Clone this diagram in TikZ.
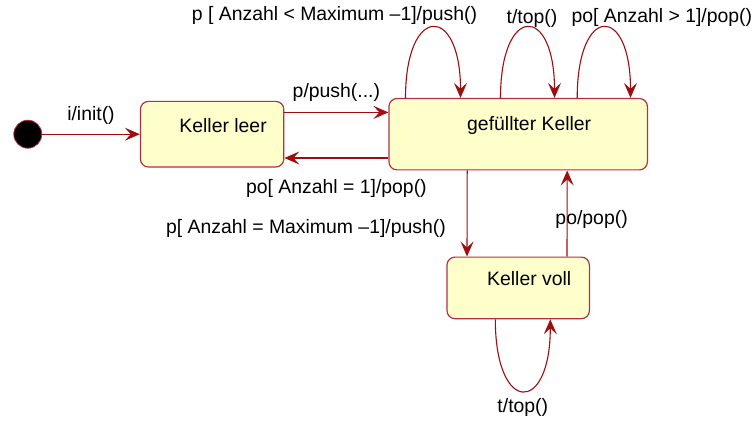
\documentclass[tikz,border=0pt]{standalone}
\usepackage{fontspec}
\setmainfont{Liberation Sans}
\usetikzlibrary{arrows.meta, positioning}
\definecolor{statefill}{RGB}{255,255,204}
\definecolor{stateborder}{RGB}{176,48,72}
\definecolor{arrowred}{RGB}{158,14,14}
\tikzstyle{initial} = [
  circle,
  minimum size=14pt,
  inner sep=0pt,
  draw=stateborder,
  fill=black
]
\tikzstyle{state} = [
  rectangle,
  rounded corners=4pt,
  inner sep=0pt,
  line width=0.6pt,
  draw=stateborder,
  fill=statefill
]
\tikzstyle{statename} = [xshift=5.5pt, yshift=4.5pt]
\tikzstyle{arrow} = [line width=0.55pt, draw=arrowred, -{Stealth[length=7.5pt, width=6.5pt, inset=3pt]}]

\begin{document}
\begin{tikzpicture}[font=\fontsize{9.7}{11.5}\selectfont]
    \useasboundingbox (0,0) rectangle (377pt,-211pt);
    \node (start) [initial] at (13.9pt,-67.1pt) {};
    \node (keller-leer) [state, minimum width=71.7pt, minimum height=32.8pt, right=48.8pt of start, label={[statename]center:Keller leer}] {};
    \node (gefuellter-keller) [state, minimum width=129.2pt, minimum height=35.7pt, right=52pt of keller-leer, label={[statename]center:gefüllter Keller}] {};
    \node (keller-voll) [state, minimum width=71.2pt, minimum height=30.8pt, below=43pt of gefuellter-keller, label={[statename]center:Keller voll}] {};

    \draw [arrow] (start) -- node[above=1pt] {i/init()} (keller-leer);
    \draw [arrow] ([yshift=10.9pt]keller-leer.east) -- node[above=2pt] {p/push(...)} ([yshift=10.9pt]gefuellter-keller.west);
    \draw [arrow] ([yshift=-11.9pt]gefuellter-keller.west) -- node[below=7pt] {po[ Anzahl = 1]/pop()} ([yshift=-11.9pt]keller-leer.east);
    \draw [arrow] ([xshift=-25.5pt]gefuellter-keller.south) -- node[left=7pt, pos=0.67] {p[ Anzahl = Maximum –1]/push()} ([xshift=-25.6pt]keller-voll.north);
    \draw [arrow] ([xshift=24.4pt]keller-voll.north) -- node[pos=0.435, xshift=12.25pt] {po/pop()} ([xshift=24.5pt]gefuellter-keller.south);
    \draw [arrow] ([xshift=-56.35pt]gefuellter-keller.north) .. controls +(0,47pt) and +(0,47pt) .. ([xshift=-28.85pt]gefuellter-keller.north) node[pos=0.5, xshift=-49.25pt, yshift=5.75pt] {p [ Anzahl < Maximum –1]/push()};
    \draw [arrow] ([xshift=-8.85pt]gefuellter-keller.north) .. controls +(0,47pt) and +(0,47pt) .. ([xshift=18.15pt]gefuellter-keller.north) node[pos=0.5, xshift=2.25pt, yshift=4.5pt] {t/top()};
    \draw [arrow] ([xshift=29.5pt]gefuellter-keller.north) .. controls +(0,47pt) and +(0,47pt) .. ([xshift=56.15pt]gefuellter-keller.north) node[pos=0.5, xshift=29pt, yshift=5pt] {po[ Anzahl > 1]/pop()};
    \draw [arrow] ([xshift=-11.45pt]keller-voll.south) .. controls +(0,-47.8pt) and +(0,-47.8pt) .. ([xshift=16.05pt]keller-voll.south) node[pos=0.5, yshift=-8.25pt] {t/top()};
\end{tikzpicture}
\end{document}
